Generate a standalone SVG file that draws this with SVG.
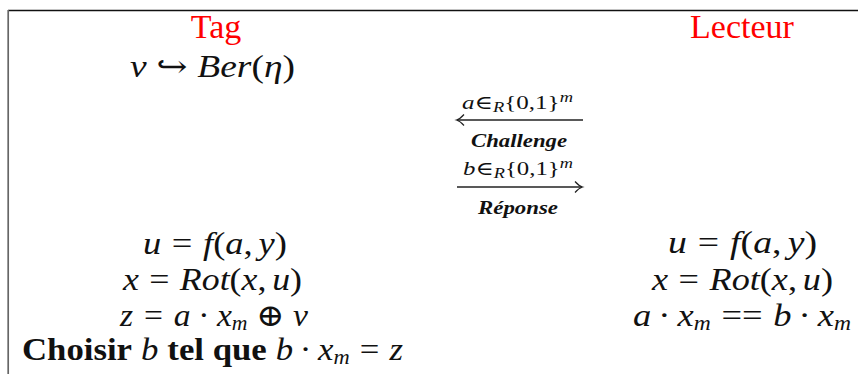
<svg xmlns="http://www.w3.org/2000/svg" width="858" height="374" viewBox="0 0 858 374">
<defs>
<style>
text{font-family:"Liberation Serif","DejaVu Serif",serif;fill:#111;}
.t{font-size:34px;fill:#ff0000;text-anchor:middle;}
.m{font-size:31px;}
.i{font-style:italic;}
.b{font-weight:bold;}
.s{font-size:20px;}
.lab{font-size:19px;}
.sl{font-size:14px;font-style:italic;}
.msg{font-size:18px;font-style:italic;font-weight:bold;}
.conn{stroke:#222;stroke-width:1.4;fill:none;}
</style>
<marker id="ah" markerUnits="userSpaceOnUse" markerWidth="16" markerHeight="16" viewBox="-10 -8 12 16" refX="0" refY="0" orient="auto-start-reverse">
<path d="M -7 -5.5 Q -3 -1 0.5 0 Q -3 1 -7 5.5" fill="none" stroke="#222" stroke-width="1.2"/>
</marker>
</defs>
<rect width="858" height="374" fill="#fff"/>
<g id="frame">
<line x1="8" y1="10.5" x2="858" y2="10.5" stroke="#111" stroke-width="1.3"/>
<line x1="8.2" y1="10" x2="8.2" y2="374" stroke="#666" stroke-width="1.7"/>
</g>
<g id="tag">
<text class="t" x="216" y="38">Tag</text>
<text class="m" x="130" y="77" textLength="165" lengthAdjust="spacingAndGlyphs"><tspan class="i">ν</tspan><tspan dx="8">↪</tspan><tspan class="i" dx="8">Ber</tspan>(<tspan class="i">η</tspan>)</text>
<text class="m" x="143" y="254" textLength="144" lengthAdjust="spacingAndGlyphs"><tspan class="i">u</tspan><tspan dx="9">=</tspan><tspan class="i" dx="9">f</tspan>(<tspan class="i">a</tspan>,<tspan class="i" dx="5">y</tspan>)</text>
<text class="m" x="123" y="290" textLength="179" lengthAdjust="spacingAndGlyphs"><tspan class="i">x</tspan><tspan dx="9">=</tspan><tspan class="i" dx="9">Rot</tspan>(<tspan class="i">x</tspan>,<tspan class="i" dx="5">u</tspan>)</text>
<text class="m" x="120" y="326" textLength="188" lengthAdjust="spacingAndGlyphs"><tspan class="i">z</tspan><tspan dx="10">=</tspan><tspan class="i" dx="10">a</tspan><tspan dx="7">·</tspan><tspan class="i" dx="7">x</tspan><tspan class="i s" dy="4">m</tspan><tspan dy="-4" dx="8">⊕</tspan><tspan class="i" dx="8">ν</tspan></text>
<text class="m" x="22" y="360" textLength="381" lengthAdjust="spacingAndGlyphs"><tspan class="b">Choisir</tspan><tspan class="i" dx="8">b</tspan><tspan class="b" dx="8">tel que</tspan><tspan class="i" dx="8">b</tspan><tspan dx="6">·</tspan><tspan class="i" dx="6">x</tspan><tspan class="i s" dy="4">m</tspan><tspan dy="-4" dx="9">=</tspan><tspan class="i" dx="9">z</tspan></text>
</g>
<g id="lecteur">
<text class="t" x="742" y="38">Lecteur</text>
<text class="m" x="668" y="253" textLength="149" lengthAdjust="spacingAndGlyphs"><tspan class="i">u</tspan><tspan dx="9">=</tspan><tspan class="i" dx="9">f</tspan>(<tspan class="i">a</tspan>,<tspan class="i" dx="5">y</tspan>)</text>
<text class="m" x="652" y="290" textLength="181" lengthAdjust="spacingAndGlyphs"><tspan class="i">x</tspan><tspan dx="9">=</tspan><tspan class="i" dx="9">Rot</tspan>(<tspan class="i">x</tspan>,<tspan class="i" dx="5">u</tspan>)</text>
<text class="m" x="633" y="326" textLength="218" lengthAdjust="spacingAndGlyphs"><tspan class="i">a</tspan><tspan dx="6">·</tspan><tspan class="i" dx="6">x</tspan><tspan class="i s" dy="4">m</tspan><tspan dy="-4" dx="9">==</tspan><tspan class="i" dx="9">b</tspan><tspan dx="6">·</tspan><tspan class="i" dx="6">x</tspan><tspan class="i s" dy="4">m</tspan></text>
</g>
<g id="challenge">
<text class="lab" x="462" y="109" textLength="111" lengthAdjust="spacingAndGlyphs"><tspan class="i">a</tspan>∈<tspan class="sl" dy="3">R</tspan><tspan dy="-3">{0,1}</tspan><tspan class="sl" dy="-7">m</tspan></text>
<text class="msg" x="471" y="147" textLength="96" lengthAdjust="spacingAndGlyphs">Challenge</text>
</g>
<g id="reponse">
<text class="lab" x="463" y="175" textLength="110" lengthAdjust="spacingAndGlyphs"><tspan class="i">b</tspan>∈<tspan class="sl" dy="3">R</tspan><tspan dy="-3">{0,1}</tspan><tspan class="sl" dy="-7">m</tspan></text>
<text class="msg" x="478" y="214" textLength="80" lengthAdjust="spacingAndGlyphs">Réponse</text>
</g>
<g id="connectors">
<line class="conn" x1="583" y1="120" x2="457" y2="120" marker-end="url(#ah)"/>
<line class="conn" x1="457" y1="187" x2="582" y2="187" marker-end="url(#ah)"/>
</g>
</svg>
